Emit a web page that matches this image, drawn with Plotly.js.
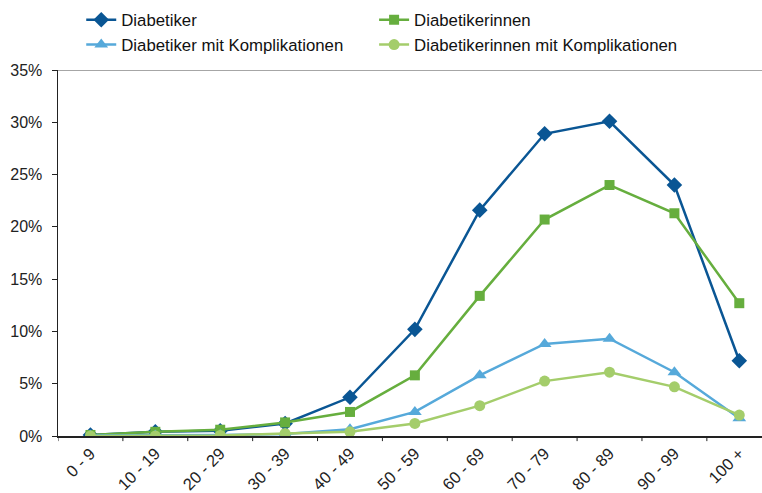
<!DOCTYPE html>
<html>
<head>
<meta charset="utf-8">
<script src="https://cdn.plot.ly/plotly-3.0.1.min.js"></script>
<style>html,body{margin:0;padding:0;background:#fff}#chart{width:762px;height:493px}</style>
</head>
<body>
<div id="chart"></div>
<script>
const categories = ["0 - 9","10 - 19","20 - 29","30 - 39","40 - 49","50 - 59","60 - 69","70 - 79","80 - 89","90 - 99","100 +"];
const diabetiker = [0.001,0.004,0.005,0.012,0.037,0.102,0.216,0.289,0.301,0.240,0.072];
const diabetikerinnen = [0.001,0.004,0.006,0.013,0.023,0.058,0.134,0.207,0.240,0.213,0.127];
const diabetikerKompl = [0.0005,0.0005,0.001,0.002,0.0065,0.023,0.058,0.088,0.093,0.061,0.017];
const diabetikerinnenKompl = [0.0,0.0,0.0005,0.0025,0.004,0.012,0.029,0.0525,0.061,0.047,0.020];
const seriesNames = ["Diabetiker","Diabetikerinnen","Diabetiker mit Komplikationen","Diabetikerinnen mit Komplikationen"];
const yTickVals = [0,0.05,0.10,0.15,0.20,0.25,0.30,0.35];

const FONT = "'Liberation Sans', Arial, sans-serif";
const idx = categories.map((c,i)=>i);
function tr(name, y, color, symbol, size, leg){
  return {type:'scatter', mode:'lines+markers', name:name, x:idx, y:y, legend:leg,
    line:{color:color, width:2.5}, marker:{color:color, symbol:symbol, size:size}};
}
const data = [
  tr(seriesNames[0], diabetiker, '#0a5694', 'diamond', 12, 'legend'),
  tr(seriesNames[1], diabetikerinnen, '#66ae3e', 'square', 10, 'legend2'),
  tr(seriesNames[2], diabetikerKompl, '#56a9da', 'triangle-up', 12, 'legend'),
  tr(seriesNames[3], diabetikerinnenKompl, '#a4cd6b', 'circle', 11, 'legend2')
];
const legStyle = {yanchor:'top', y:1.185, xanchor:'left', itemwidth:30, traceorder:'normal',
  bgcolor:'rgba(0,0,0,0)', font:{family:FONT, size:16.8, color:'#111'}};
const layout = {
  width:762, height:493,
  margin:{l:58, r:0, t:70, b:57},
  paper_bgcolor:'#fff', plot_bgcolor:'#fff',
  font:{family:FONT, size:16, color:'#222'},
  showlegend:true,
  legend:Object.assign({x:0.033}, legStyle),
  legend2:Object.assign({x:0.449}, legStyle),
  xaxis:{type:'linear', range:[-0.5,10.35], tickmode:'array', tickvals:idx, ticktext:categories,
    tickangle:-45, showgrid:false, zeroline:false, showline:true, linecolor:'#222', linewidth:1.5,
    ticks:'', tickfont:{family:FONT, size:16.5, color:'#222'}},
  yaxis:{range:[0,0.35], tickmode:'array', tickvals:yTickVals, tickformat:'.0%',
    showgrid:false, zeroline:false, showline:true, linecolor:'#222', linewidth:1.5,
    ticks:'outside', ticklen:5, tickcolor:'#222', tickwidth:1,
    ticklabelstandoff:6, tickfont:{family:FONT, size:16, color:'#222'}},
  shapes:[
    {type:'line', xref:'paper', yref:'y', x0:0, x1:1, y0:0.35, y1:0.35, line:{color:'#888', width:1.5}}
  ].concat(categories.map((c,i)=>({type:'line', xref:'x', yref:'paper', x0:i-0.5, x1:i-0.5, y0:0, y1:-0.014, line:{color:'#222', width:1}})))
};
Plotly.newPlot('chart', data, layout, {displayModeBar:false, staticPlot:true});
</script>
</body>
</html>
